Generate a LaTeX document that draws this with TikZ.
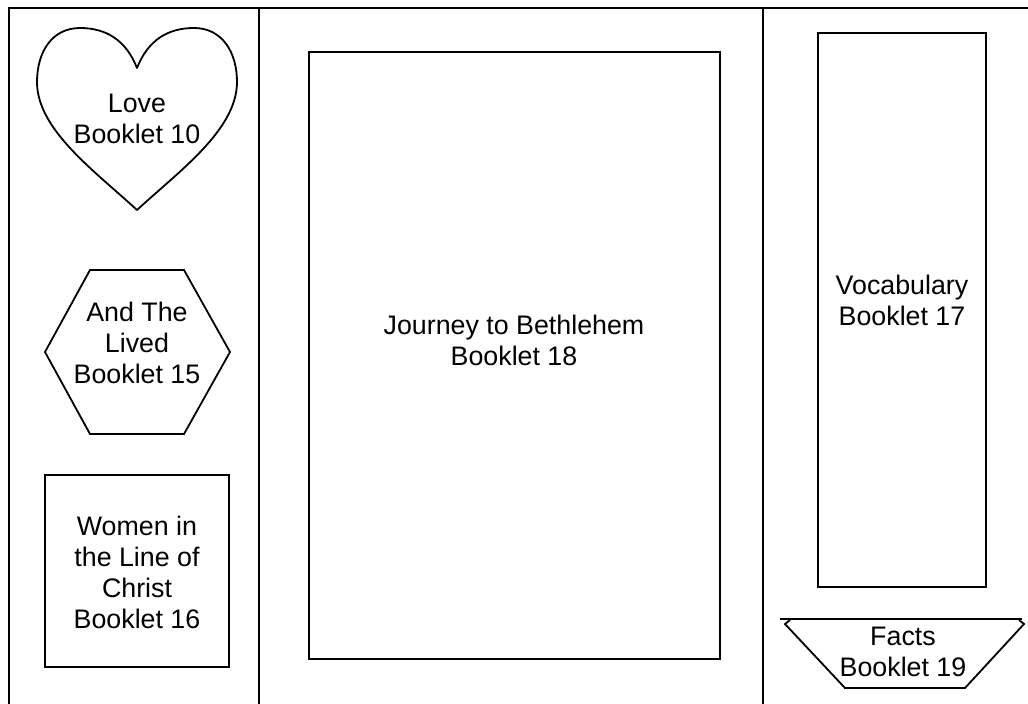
\documentclass[tikz,border=0pt]{standalone}
\usepackage{fontspec}
\setmainfont{Liberation Sans}
\begin{document}
\begin{tikzpicture}[x=1pt,y=-1pt,
  outline/.style={draw=black,line width=1.8pt,line join=miter},
  label/.style={align=center,font=\fontsize{26.8}{31}\selectfont,inner sep=0pt}]
\useasboundingbox (0,0) rectangle (1028,704);
% frame
\draw[outline] (9,704) -- (9,8) -- (1028,8);
\draw[outline] (259,8) -- (259,704);
\draw[outline] (763,8) -- (763,704);
% heart
\draw[outline,line join=round] (137,68)
  .. controls (148,40) and (168,28) .. (194,28)
  .. controls (222,28) and (237,52) .. (237,82)
  .. controls (237,130) and (178,172) .. (137,210)
  .. controls (96,172) and (37,130) .. (37,82)
  .. controls (37,52) and (52,28) .. (80,28)
  .. controls (106,28) and (126,40) .. (137,68) -- cycle;
\node[label] (love) at (137,119) {Love\\Booklet 10};
% hexagon
\draw[outline] (45,352) -- (90,270) -- (184,270) -- (230,352) -- (184,434) -- (90,434) -- cycle;
\node[label] (lived) at (137,343) {And The\\Lived\\Booklet 15};
% square
\draw[outline] (45,475) rectangle (229,667);
\node[label] (women) at (137,572) {Women in\\the Line of\\Christ\\Booklet 16};
% big rectangle
\draw[outline] (309,52) rectangle (720,659);
\node[label] (journey) at (514,340) {Journey to Bethlehem\\Booklet 18};
% vocabulary
\draw[outline] (818,33) rectangle (986,587);
\node[label] (vocab) at (902,300) {Vocabulary\\Booklet 17};
% trapezoid
\draw[outline] (780,619) -- (1022,619);
\draw[outline] (790,620) -- (785,624) -- (845,688) -- (965,688) -- (1024,624) -- (1019,620);
\node[label] (facts) at (903,652) {Facts\\Booklet 19};
\end{tikzpicture}
\end{document}
